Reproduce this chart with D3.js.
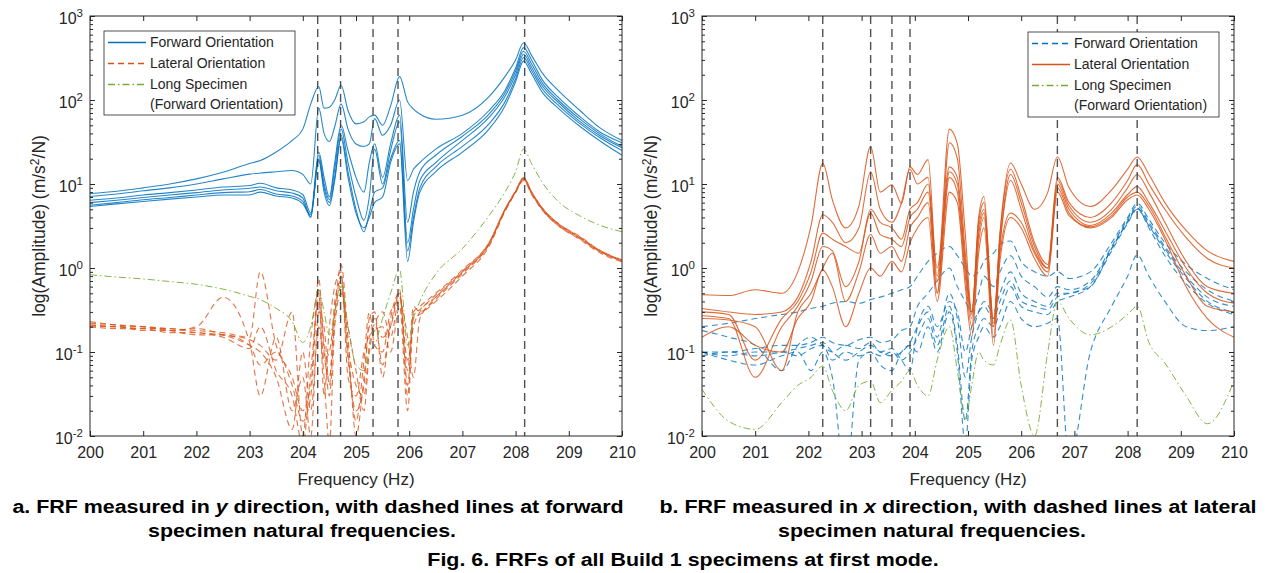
<!DOCTYPE html>
<html>
<head>
<meta charset="utf-8">
<script src="https://cdn.jsdelivr.net/npm/d3@7"></script>
<style>
  body { margin: 0; background: #fff; }
  svg { font-family: "Liberation Sans", Arial, Helvetica, sans-serif; }
</style>
</head>
<body>
<svg id="chart" width="1267" height="573"></svg>
<script>
// ---- data: panel a (y direction) ----
const freqY = [200, 200.5, 201, 201.5, 202, 202.5, 203, 203.2, 203.5, 203.8, 204.0, 204.15, 204.3, 204.4, 204.5, 204.6, 204.72, 204.85, 205.0, 205.15, 205.25, 205.35, 205.5, 205.65, 205.82, 205.97, 206.08, 206.2, 206.5, 207.0, 207.5, 207.8, 208.0, 208.15, 208.3, 208.5, 208.8, 209.2, 209.6, 210];

const fwdY = [
  [7.7, 8.2, 9.0, 10.0, 11.5, 13.8, 17.5, 19.0, 24, 33, 45, 90, 145, 80, 82, 100, 150, 75, 52, 55, 63, 66, 50, 85, 190, 95, 78, 68, 59, 66, 110, 190, 300, 480, 340, 210, 130, 76, 46, 33],
  [7.1, 7.6, 8.3, 9.0, 10.0, 11.5, 13.1, 13.5, 14, 14.5, 13, 10, 80, 40, 32, 48, 90, 45, 30, 28, 30, 60, 38, 50, 100, 11, 15, 18, 26, 40, 75, 130, 240, 420, 300, 175, 108, 64, 41, 31],
  [6.4, 6.8, 7.4, 7.9, 8.5, 9.2, 9.6, 10.2, 9.0, 8.5, 7.5, 4.5, 24, 12, 7, 18, 50, 25, 12, 8, 18, 30, 12, 30, 66, 3.5, 8, 14, 22, 37, 68, 120, 220, 380, 270, 160, 100, 60, 39, 28],
  [6.0, 6.4, 6.9, 7.4, 7.9, 8.5, 8.9, 9.2, 8.3, 7.8, 6.8, 4.1, 22, 10, 6.5, 15, 45, 18, 7, 3.7, 7, 26, 10, 25, 55, 2.0, 5, 11, 18, 33, 62, 110, 200, 350, 245, 148, 94, 56, 37, 27],
  [5.6, 6.0, 6.5, 6.9, 7.4, 7.9, 8.1, 8.6, 7.6, 7.2, 6.2, 4.0, 20, 9, 6, 12, 38, 14, 5, 2.7, 4.5, 8, 9, 20, 33, 1.6, 4, 9, 16, 28, 52, 95, 180, 320, 225, 136, 87, 53, 35, 25],
  [5.4, 5.8, 6.2, 6.6, 7.0, 7.4, 7.4, 8.0, 7.2, 6.8, 5.8, 4.3, 19, 8, 5.5, 11, 35, 12, 4.5, 3.0, 4.0, 6, 7, 18, 30, 1.2, 3.5, 8, 14, 24, 45, 85, 165, 290, 205, 124, 80, 49, 32, 22]
];

const latY = [
  [0.22, 0.21, 0.2, 0.19, 0.18, 0.17, 0.15, 0.9, 0.12, 0.05, 0.02, 0.04, 0.75, 0.1, 0.05, 0.3, 1.1, 0.15, 0.01, 0.05, 0.2, 0.25, 0.07, 0.2, 0.55, 0.03, 0.3, 0.35, 0.5, 0.95, 2.0, 5.0, 8.2, 11.8, 8.0, 5.2, 3.4, 2.35, 1.6, 1.24],
  [0.21, 0.2, 0.19, 0.19, 0.17, 0.16, 0.14, 0.12, 0.08, 0.3, 0.01, 0.15, 0.5, 0.03, 0.2, 0.6, 0.9, 0.05, 0.03, 0.1, 0.15, 0.22, 0.3, 0.15, 0.45, 0.08, 0.2, 0.3, 0.45, 0.9, 1.9, 4.8, 8.0, 11.5, 7.8, 5.0, 3.3, 2.3, 1.55, 1.22],
  [0.2, 0.2, 0.18, 0.18, 0.2, 0.45, 0.13, 0.03, 0.15, 0.02, 0.05, 0.01, 0.3, 0.2, 0.04, 0.4, 0.7, 0.1, 0.015, 0.08, 0.3, 0.12, 0.1, 0.3, 0.4, 0.15, 0.05, 0.25, 0.42, 0.85, 1.9, 4.9, 8.1, 11.3, 7.7, 5.0, 3.2, 2.25, 1.55, 1.2],
  [0.23, 0.21, 0.2, 0.18, 0.19, 0.16, 0.12, 0.1, 0.05, 0.012, 0.1, 0.02, 0.2, 0.05, 0.008, 0.2, 0.5, 0.2, 0.06, 0.02, 0.1, 0.18, 0.2, 0.1, 0.35, 0.02, 0.25, 0.28, 0.4, 0.8, 1.8, 4.7, 7.9, 11.0, 7.5, 4.9, 3.2, 2.2, 1.5, 1.18],
  [0.2, 0.19, 0.19, 0.17, 0.17, 0.15, 0.11, 0.2, 0.06, 0.03, 0.008, 0.06, 0.4, 0.08, 0.1, 0.3, 0.6, 0.08, 0.02, 0.04, 0.25, 0.3, 0.05, 0.25, 0.5, 0.06, 0.35, 0.3, 0.45, 0.88, 1.95, 4.9, 8.1, 11.6, 7.9, 5.1, 3.3, 2.3, 1.58, 1.22],
  [0.21, 0.2, 0.2, 0.18, 0.16, 0.16, 0.12, 0.07, 0.1, 0.04, 0.015, 0.03, 0.55, 0.12, 0.03, 0.25, 0.8, 0.12, 0.04, 0.03, 0.12, 0.2, 0.15, 0.2, 0.5, 0.04, 0.28, 0.32, 0.48, 0.92, 2.0, 5.0, 8.3, 11.9, 8.1, 5.2, 3.4, 2.4, 1.6, 1.25]
];

const longY = [0.83, 0.78, 0.74, 0.69, 0.64, 0.56, 0.46, 0.42, 0.33, 0.23, 0.13, 0.2, 0.55, 0.3, 0.16, 0.3, 0.66, 0.2, 0.07, 0.06, 0.1, 0.12, 0.25, 0.5, 0.95, 0.12, 0.25, 0.4, 0.85, 1.7, 4.2, 8, 14, 26, 17.5, 10.5, 6.2, 4.2, 3.2, 2.7];

const natFreqY = [204.28, 204.71, 205.32, 205.79, 208.17];

// ---- data: panel b (x direction) ----
const freqX = [200, 200.5, 201, 201.5, 201.8, 202.05, 202.27, 202.45, 202.7, 202.95, 203.17, 203.35, 203.57, 203.75, 203.91, 204.05, 204.25, 204.42, 204.65, 204.8, 204.95, 205.07, 205.2, 205.3, 205.48, 205.6, 205.8, 206.0, 206.25, 206.5, 206.68, 206.9, 207.3, 207.7, 208.0, 208.18, 208.4, 208.7, 209.1, 209.5, 210];

const fwdX = [
  [0.2, 0.22, 0.25, 0.28, 0.3, 0.33, 0.35, 0.38, 0.4, 0.38, 0.42, 0.45, 0.5, 0.55, 0.6, 0.8, 1.2, 1.5, 1.8, 1.4, 1.0, 0.8, 0.9, 1.2, 1.5, 1.9, 2.1, 1.2, 0.9, 0.8, 0.9, 0.75, 0.9, 2.0, 4.0, 5.9, 3.8, 2.0, 1.1, 0.75, 0.55],
  [0.1, 0.1, 0.11, 0.12, 0.12, 0.13, 0.15, 0.13, 0.12, 0.14, 0.15, 0.13, 0.14, 0.18, 0.2, 0.35, 0.5, 0.7, 1.0, 0.6, 0.4, 0.3, 0.5, 0.8, 0.6, 0.9, 1.4, 0.8, 0.6, 0.45, 0.6, 0.55, 0.7, 1.8, 3.8, 5.5, 3.5, 1.8, 0.9, 0.55, 0.4],
  [0.09, 0.1, 0.09, 0.1, 0.11, 0.12, 0.13, 0.1, 0.08, 0.1, 0.12, 0.1, 0.09, 0.1, 0.13, 0.2, 0.3, 0.15, 0.5, 0.25, 0.05, 0.15, 0.3, 0.4, 0.3, 0.5, 0.9, 0.5, 0.4, 0.35, 0.5, 0.5, 0.65, 1.7, 3.6, 5.2, 3.3, 1.7, 0.8, 0.45, 0.35],
  [0.1, 0.09, 0.1, 0.1, 0.09, 0.11, 0.12, 0.08, 0.1, 0.09, 0.1, 0.09, 0.1, 0.08, 0.1, 0.15, 0.25, 0.12, 0.35, 0.12, 0.015, 0.1, 0.2, 0.25, 0.2, 0.3, 0.6, 0.35, 0.3, 0.28, 0.4, 0.45, 0.6, 1.6, 3.4, 5.0, 3.2, 1.6, 0.75, 0.4, 0.3],
  [0.1, 0.08, 0.07, 0.09, 0.1, 0.06, 0.1, 0.05, 0.003, 0.08, 0.1, 0.07, 0.06, 0.1, 0.12, 0.1, 0.2, 0.1, 0.3, 0.1, 0.008, 0.08, 0.15, 0.2, 0.15, 0.2, 0.4, 0.25, 0.2, 0.22, 0.25, 0.005, 0.1, 0.35, 0.8, 1.43, 0.8, 0.4, 0.2, 0.18, 0.2],
  [0.18, 0.15, 0.12, 0.06, 0.12, 0.15, 0.12, 0.1, 0.12, 0.11, 0.13, 0.1, 0.11, 0.08, 0.06, 0.2, 0.35, 0.2, 0.4, 0.3, 0.1, 0.2, 0.3, 0.35, 0.25, 0.4, 0.7, 0.4, 0.35, 0.32, 0.45, 0.5, 0.6, 1.7, 3.5, 5.1, 3.0, 1.4, 0.65, 0.38, 0.28]
];

const latX = [
  [0.48, 0.47, 0.55, 0.5, 0.9, 3.2, 17.6, 6.5, 3.0, 5.5, 28, 8, 9.8, 5.9, 16, 13, 19.5, 0.8, 45, 30, 2.5, 0.3, 4, 7.1, 0.2, 2.5, 17.8, 10, 5, 8, 21, 9, 5.4, 8.5, 15, 21, 13, 6, 2.8, 1.6, 1.2],
  [0.33, 0.3, 0.28, 0.3, 0.45, 1.2, 4.3, 3.5, 2.0, 3.0, 14, 5, 3.5, 6, 15, 10, 12, 0.5, 31, 20, 1.5, 0.28, 3.5, 6, 0.22, 2.5, 15, 7, 2, 1.1, 12, 6, 4.0, 6, 11, 17, 10, 5, 2.3, 1.3, 1.0],
  [0.3, 0.28, 0.08, 0.25, 0.4, 0.9, 2.6, 2.2, 1.8, 1.5, 5, 3.5, 3, 2.2, 5, 6, 10, 1, 16, 12, 1.2, 0.3, 3, 5, 0.25, 2, 13, 6, 1.8, 1.0, 11, 5.5, 3.5, 5, 9, 13, 8, 3.5, 1.2, 0.6, 0.5],
  [0.27, 0.25, 0.05, 0.2, 0.35, 0.7, 1.8, 1.6, 0.6, 1.2, 4.5, 2.5, 2.2, 1.8, 4, 5, 8, 0.7, 14, 10, 1.0, 0.25, 2.5, 4.5, 0.2, 1.8, 11, 5, 1.6, 1.0, 10, 5, 3.2, 4.5, 7.5, 9.3, 6, 2.8, 1.0, 0.5, 0.38],
  [0.25, 0.24, 0.2, 0.06, 0.3, 0.5, 1.0, 1.5, 0.4, 0.9, 2.5, 1.5, 1.8, 1.2, 3, 4, 6, 0.5, 12, 8, 0.8, 0.2, 2, 4, 0.15, 1.5, 4.5, 3.5, 1.5, 0.9, 9, 4.5, 3.0, 4, 6.5, 7.4, 5, 2.2, 0.6, 0.25, 0.15],
  [0.15, 0.2, 0.12, 0.1, 0.25, 0.4, 0.95, 0.6, 0.2, 0.5, 1.0, 0.8, 1.2, 0.9, 2, 3, 4, 0.4, 8, 6, 0.6, 0.15, 1.5, 3, 0.12, 1.2, 4, 3, 1.3, 0.8, 8, 4.2, 3.1, 4.2, 7, 8, 5.5, 2.4, 0.8, 0.35, 0.3]
];

const longX = [0.036, 0.015, 0.012, 0.025, 0.04, 0.05, 0.068, 0.035, 0.02, 0.04, 0.045, 0.025, 0.035, 0.045, 0.06, 0.04, 0.03, 0.08, 0.2, 0.06, 0.016, 0.04, 0.1, 0.08, 0.07, 0.12, 0.24, 0.04, 0.01, 0.1, 0.4, 0.25, 0.16, 0.2, 0.28, 0.35, 0.13, 0.074, 0.03, 0.014, 0.045];

const natFreqX = [202.27, 203.17, 203.57, 203.91, 206.68, 208.18];

// ---- axes / labels ----
const xTicks = [200, 201, 202, 203, 204, 205, 206, 207, 208, 209, 210];
const yExponents = [-2, -1, 0, 1, 2, 3];
const legendLabels = ['Forward Orientation', 'Lateral Orientation', 'Long Specimen', '(Forward Orientation)'];

const blue = '#0072BD', orange = '#D95319', green = '#77AC30', ink = '#262626';
const plotTop = 16, plotBottom = 436;
const svg = d3.select('#chart');

const yMajor = yExponents.map(e => Math.pow(10, e));
const yMinor = [];
yMajor.slice(0, -1).forEach(v => [2, 3, 4, 5, 6, 7, 8, 9].forEach(m => yMinor.push(v * m)));

const styles = {
  solid: { dash: null, width: 1.1 },
  dashed: { dash: '6,4', width: 1.1 },
  dashdot: { dash: '7,3,1.5,3', width: 1.0 }
};

function drawPanel(cfg) {
  const x = d3.scaleLinear().domain([200, 210]).range([cfg.x0, cfg.x1]);
  const y = d3.scaleLog().domain([1e-2, 1e3]).range([plotBottom, plotTop]);
  const g = svg.append('g');

  svg.append('clipPath').attr('id', 'clip-' + cfg.id)
    .append('rect')
    .attr('x', cfg.x0).attr('y', plotTop)
    .attr('width', cfg.x1 - cfg.x0).attr('height', plotBottom - plotTop);

  const line = d3.line()
    .x((d, i) => x(cfg.freq[i]))
    .y(d => y(Math.max(d, 1e-3)))
    .curve(d3.curveMonotoneX);

  const plot = g.append('g').attr('clip-path', `url(#clip-${cfg.id})`);

  cfg.series.forEach(s => {
    plot.append('g').selectAll('path')
      .data(s.data)
      .enter().append('path')
      .attr('d', line)
      .attr('fill', 'none')
      .attr('stroke', s.color)
      .attr('stroke-opacity', s.opacity)
      .attr('stroke-width', styles[s.style].width)
      .attr('stroke-dasharray', styles[s.style].dash);
  });

  plot.append('g').selectAll('line')
    .data(cfg.natFreq)
    .enter().append('line')
    .attr('x1', d => x(d)).attr('x2', d => x(d))
    .attr('y1', plotTop).attr('y2', plotBottom)
    .attr('stroke', '#333').attr('stroke-opacity', 0.85)
    .attr('stroke-width', 1.4).attr('stroke-dasharray', '8,5');

  // ticks (inside, on all four sides)
  const tickAxis = (axis, tx, ty) => {
    const a = g.append('g').attr('transform', `translate(${tx},${ty})`).call(axis);
    a.select('.domain').remove();
    a.selectAll('line').attr('stroke', ink);
    return a;
  };
  const xb = tickAxis(d3.axisBottom(x).tickValues(xTicks).tickSizeInner(-5).tickSizeOuter(0).tickPadding(11), 0, plotBottom);
  xb.selectAll('text').attr('font-size', 16).attr('fill', ink).attr('font-family', null);
  tickAxis(d3.axisTop(x).tickValues(xTicks).tickSize(-5).tickFormat(''), 0, plotTop);
  tickAxis(d3.axisLeft(y).tickValues(yMajor).tickSize(-5).tickFormat(''), cfg.x0, 0);
  tickAxis(d3.axisLeft(y).tickValues(yMinor).tickSize(-3).tickFormat(''), cfg.x0, 0);
  tickAxis(d3.axisRight(y).tickValues(yMajor).tickSize(-5).tickFormat(''), cfg.x1, 0);
  tickAxis(d3.axisRight(y).tickValues(yMinor).tickSize(-3).tickFormat(''), cfg.x1, 0);

  g.append('rect')
    .attr('x', cfg.x0).attr('y', plotTop)
    .attr('width', cfg.x1 - cfg.x0).attr('height', plotBottom - plotTop)
    .attr('fill', 'none').attr('stroke', ink).attr('stroke-width', 1);

  // y tick labels 10^n
  const yl = g.append('g').selectAll('text')
    .data(yExponents)
    .enter().append('text')
    .attr('x', cfg.x0 - 7)
    .attr('y', d => y(Math.pow(10, d)) + 8)
    .attr('text-anchor', 'end')
    .attr('font-size', 16)
    .attr('fill', ink);
  yl.append('tspan').text('10');
  yl.append('tspan').attr('dy', -7).attr('font-size', 11.5).text(d => String(d));

  // axis titles
  g.append('text')
    .attr('x', (cfg.x0 + cfg.x1) / 2).attr('y', 485)
    .attr('text-anchor', 'middle').attr('font-size', 17).attr('fill', ink)
    .text('Frequency (Hz)');

  const yt = g.append('text')
    .attr('transform', `translate(${cfg.x0 - 45},${(plotTop + plotBottom) / 2}) rotate(-90)`)
    .attr('text-anchor', 'middle').attr('font-size', 17.5).attr('fill', ink);
  yt.append('tspan').text('log(Amplitude) (m/s');
  yt.append('tspan').attr('dy', -6).attr('font-size', 12).text('2');
  yt.append('tspan').attr('dy', 6).text('/N)');

  // legend
  const L = cfg.legend;
  const lg = g.append('g');
  lg.append('rect')
    .attr('x', L.x).attr('y', L.y).attr('width', L.w).attr('height', L.h)
    .attr('fill', '#fff').attr('stroke', ink).attr('stroke-width', 0.8);
  const rows = [16, 37, 58, 78];
  cfg.series.forEach((s, i) => {
    lg.append('line')
      .attr('x1', L.x + 4).attr('x2', L.x + 42)
      .attr('y1', L.y + rows[i] - 4.5).attr('y2', L.y + rows[i] - 4.5)
      .attr('stroke', s.color).attr('stroke-width', 1.3)
      .attr('stroke-dasharray', styles[s.style].dash);
  });
  lg.selectAll('text')
    .data(legendLabels)
    .enter().append('text')
    .attr('x', L.x + 46)
    .attr('y', (d, i) => L.y + rows[i])
    .attr('font-size', 14).attr('fill', ink)
    .text(d => d);
}

drawPanel({
  id: 'a', x0: 90, x1: 622, freq: freqY, natFreq: natFreqY,
  series: [
    { data: fwdY, color: blue, style: 'solid', opacity: 0.85 },
    { data: latY, color: orange, style: 'dashed', opacity: 0.8 },
    { data: [longY], color: green, style: 'dashdot', opacity: 0.9 }
  ],
  legend: { x: 104, y: 31, w: 191, h: 84 }
});

drawPanel({
  id: 'b', x0: 702, x1: 1234, freq: freqX, natFreq: natFreqX,
  series: [
    { data: fwdX, color: blue, style: 'dashed', opacity: 0.8 },
    { data: latX, color: orange, style: 'solid', opacity: 0.85 },
    { data: [longX], color: green, style: 'dashdot', opacity: 0.9 }
  ],
  legend: { x: 1028, y: 32, w: 191, h: 85 }
});

// captions (the source figure text is stretched horizontally)
const stretch = 1.19;
const caption = (cx, cy, parts) => {
  const t = svg.append('text')
    .attr('transform', `translate(${cx},${cy}) scale(${stretch},1)`)
    .attr('text-anchor', 'middle')
    .attr('font-weight', 'bold').attr('font-size', 18).attr('fill', '#000');
  parts.forEach(p => t.append('tspan').attr('font-style', p.italic ? 'italic' : null).text(p.text));
};
caption(318, 513, [{ text: 'a. FRF measured in ' }, { text: 'y', italic: true }, { text: ' direction, with dashed lines at forward' }]);
caption(302, 537, [{ text: 'specimen natural frequencies.' }]);
caption(958, 513, [{ text: 'b. FRF measured in ' }, { text: 'x', italic: true }, { text: ' direction, with dashed lines at lateral' }]);
caption(932, 537, [{ text: 'specimen natural frequencies.' }]);
caption(683, 566, [{ text: 'Fig. 6. FRFs of all Build 1 specimens at first mode.' }]);
</script>
</body>
</html>
